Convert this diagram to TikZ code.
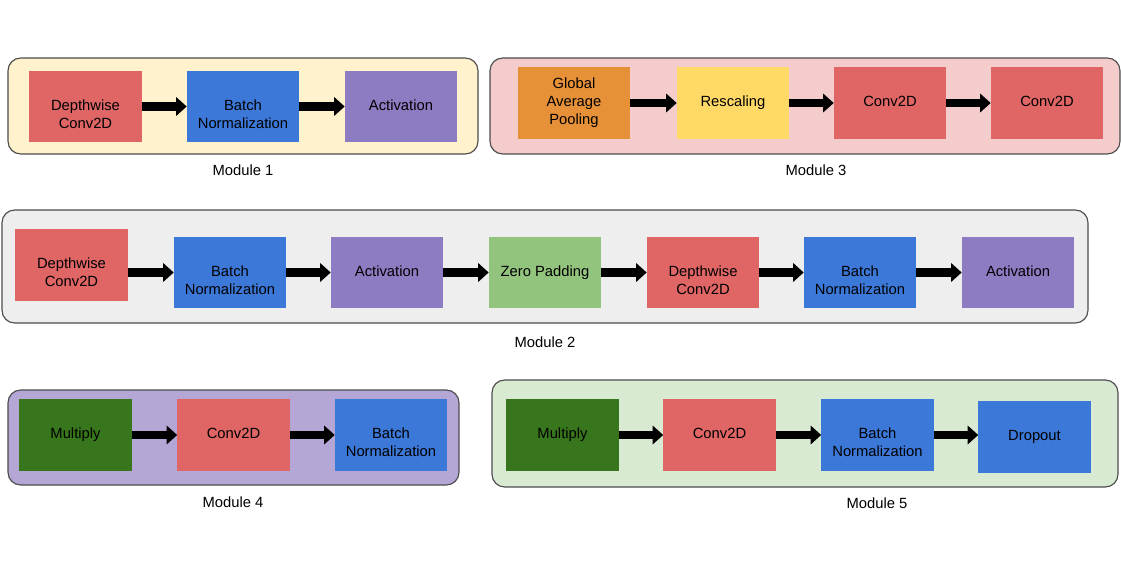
\documentclass[tikz,border=0pt]{standalone}
\usepackage{fontspec}
\setmainfont{Liberation Sans}
\usetikzlibrary{arrows.meta}

\definecolor{convred}{HTML}{E06666}
\definecolor{normblue}{HTML}{3C78D8}
\definecolor{actpurple}{HTML}{8E7CC3}
\definecolor{poolorange}{HTML}{E69138}
\definecolor{scaleyellow}{HTML}{FFD966}
\definecolor{padgreen}{HTML}{93C47D}
\definecolor{muldark}{HTML}{38761D}

\begin{document}
\begin{tikzpicture}[x=0.025cm,y=-0.025cm,
  layer/.style={minimum width=2.8cm,minimum height=1.78cm,inner sep=0pt,align=center,
    text height=8pt,text depth=3pt,font=\fontsize{10.5}{12.8}\selectfont},
  twoline/.style={layer,text height=33.6pt},
  module/.style={draw=black!70,line width=0.8pt,rounded corners=9pt},
  caption/.style={font=\fontsize{10.5}{12.8}\selectfont},
  flow/.style={line width=6.3pt,-{Triangle[length=7.5pt,width=13pt]}}]
\useasboundingbox (0,0) rectangle (1121,572);

% module 1
\draw[module,fill={rgb,255:red,255;green,242;blue,204}] (8,58) rectangle (478,154);
\node[twoline,fill=convred] (dw1) at (85.5,106.5) {Depthwise\\Conv2D};
\node[twoline,fill=normblue] (bn1) at (243,106.5) {Batch\\Normalization};
\node[layer,fill=actpurple] (ac1) at (401,106.5) {Activation};
\node[caption] (m1) at (243,170) {Module 1};
\draw[flow] (dw1.east) -- (bn1.west);
\draw[flow] (bn1.east) -- (ac1.west);

% module 3
\draw[module,fill={rgb,255:red,244;green,204;blue,204}] (490,58) rectangle (1120,154);
\node[layer,fill=poolorange,text height={},text depth={}] (gap) at (574,103) {Global\\Average\\Pooling};
\node[layer,fill=scaleyellow] (rs) at (733,103) {Rescaling};
\node[layer,fill=convred] (cv3a) at (890,103) {Conv2D};
\node[layer,fill=convred] (cv3b) at (1047,103) {Conv2D};
\node[caption] (m3) at (816,170) {Module 3};
\draw[flow] (gap.east) -- (rs.west);
\draw[flow] (rs.east) -- (cv3a.west);
\draw[flow] (cv3a.east) -- (cv3b.west);

% module 2
\draw[module,fill={rgb,255:red,238;green,238;blue,238}] (2,210) rectangle (1088,323);
\node[twoline,fill=convred] (dw2a) at (71.5,265) {Depthwise\\Conv2D};
\node[twoline,fill=normblue] (bn2a) at (230,272.5) {Batch\\Normalization};
\node[layer,fill=actpurple] (ac2a) at (387,272.5) {Activation};
\node[layer,fill=padgreen] (zp) at (545,272.5) {Zero Padding};
\node[twoline,fill=convred] (dw2b) at (703,272.5) {Depthwise\\Conv2D};
\node[twoline,fill=normblue] (bn2b) at (860,272.5) {Batch\\Normalization};
\node[layer,fill=actpurple] (ac2b) at (1018,272.5) {Activation};
\node[caption] (m2) at (545,342) {Module 2};
\draw[flow] (dw2a.east |- bn2a.west) -- (bn2a.west);
\draw[flow] (bn2a.east) -- (ac2a.west);
\draw[flow] (ac2a.east) -- (zp.west);
\draw[flow] (zp.east) -- (dw2b.west);
\draw[flow] (dw2b.east) -- (bn2b.west);
\draw[flow] (bn2b.east) -- (ac2b.west);

% module 4
\draw[module,fill={rgb,255:red,180;green,167;blue,214}] (8,390) rectangle (459,485);
\node[layer,fill=muldark] (mu4) at (75.5,435) {Multiply};
\node[layer,fill=convred] (cv4) at (233.5,435) {Conv2D};
\node[twoline,fill=normblue] (bn4) at (391,435) {Batch\\Normalization};
\node[caption] (m4) at (233,502) {Module 4};
\draw[flow] (mu4.east) -- (cv4.west);
\draw[flow] (cv4.east) -- (bn4.west);

% module 5
\draw[module,fill={rgb,255:red,217;green,234;blue,211}] (492,380) rectangle (1118,487);
\node[layer,fill=muldark] (mu5) at (562.5,435) {Multiply};
\node[layer,fill=convred] (cv5) at (719.5,435) {Conv2D};
\node[twoline,fill=normblue] (bn5) at (877.5,435) {Batch\\Normalization};
\node[layer,fill=normblue] (dr5) at (1034.5,437) {Dropout};
\node[caption] (m5) at (877,503) {Module 5};
\draw[flow] (mu5.east) -- (cv5.west);
\draw[flow] (cv5.east) -- (bn5.west);
\draw[flow] (bn5.east) -- (dr5.west |- bn5.east);
\end{tikzpicture}
\end{document}
